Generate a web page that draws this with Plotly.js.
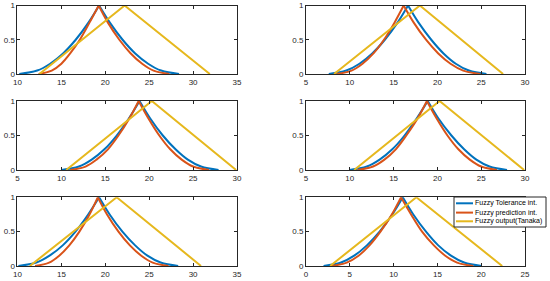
<!DOCTYPE html>
<html>
<head>
<meta charset="utf-8">
<script src="https://cdn.plot.ly/plotly-3.0.1.min.js"></script>
<style>html,body{margin:0;padding:0;background:#fff;}#chart{width:550px;height:281px;}</style>
</head>
<body>
<div id="chart"></div>
<script>
// membership (alpha) levels at which the interval bounds were read
const alpha = [0, 0.05, 0.15, 0.3, 0.5, 0.75, 1];
const triMu = [0, 1, 0];
const seriesNames = ['Fuzzy Tolerance int.', 'Fuzzy prediction int.', 'Fuzzy output(Tanaka)'];
const xTickVals = [0, 5, 10, 15, 20, 25, 30, 35];
const yTickVals = [0, 0.5, 1];

// Panel 1 (top-left)
const tolL1 = [10.2, 12.24, 13.72, 15.19, 16.63, 18.08, 19.3];
const tolR1 = [28.4, 26.36, 24.88, 23.41, 21.97, 20.52, 19.3];
const preL1 = [12.4, 13.9, 15.0, 16.0, 17.1, 18.2, 19.25];
const preR1 = [27.3, 25.5, 24.2, 22.9, 21.6, 20.3, 19.25];
const tan1 = [12.5, 22.2, 31.9];
// Panel 2 (top-right)
const tolL2 = [7.6, 9.6, 11.1, 12.56, 14.0, 15.45, 16.65];
const tolR2 = [25.6, 23.6, 22.1, 20.7, 19.3, 17.85, 16.65];
const preL2 = [8.5, 10.2, 11.45, 12.7, 13.9, 15.1, 16.15];
const preR2 = [24.9, 22.95, 21.5, 20.1, 18.7, 17.3, 16.15];
const tan2 = [8.2, 18.0, 27.5];
// Panel 3 (middle-left)
const tolL3 = [10.0, 12.0, 13.45, 14.9, 16.3, 17.7, 18.9];
const tolR3 = [27.9, 25.9, 24.4, 23.0, 21.55, 20.1, 18.9];
const preL3 = [11.0, 12.75, 14.0, 15.3, 16.5, 17.75, 18.8];
const preR3 = [26.8, 25.0, 23.7, 22.4, 21.15, 19.9, 18.8];
const tan3 = [10.55, 20.3, 29.9];
// Panel 4 (middle-right)
const tolL4 = [9.95, 11.95, 13.4, 14.85, 16.25, 17.65, 18.9];
const tolR4 = [27.95, 25.95, 24.45, 23.05, 21.6, 20.1, 18.9];
const preL4 = [10.9, 12.65, 13.95, 15.25, 16.45, 17.75, 18.8];
const preR4 = [26.8, 25.0, 23.7, 22.4, 21.15, 19.9, 18.8];
const tan4 = [10.5, 20.25, 29.9];
// Panel 5 (bottom-left)
const tolL5 = [10.1, 12.15, 13.65, 15.15, 16.6, 18.05, 19.3];
const tolR5 = [28.3, 26.3, 24.8, 23.4, 21.95, 20.5, 19.3];
const preL5 = [12.0, 13.6, 14.75, 15.9, 17.05, 18.2, 19.15];
const preR5 = [27.2, 25.4, 24.1, 22.8, 21.5, 20.2, 19.15];
const tan5 = [11.4, 21.3, 30.9];
// Panel 6 (bottom-right)
const tolL6 = [2.0, 4.0, 5.5, 6.95, 8.4, 9.85, 11.05];
const tolR6 = [20.05, 18.05, 16.55, 15.1, 13.7, 12.25, 11.05];
const preL6 = [2.9, 4.65, 6.0, 7.25, 8.5, 9.8, 10.85];
const preR6 = [19.1, 17.25, 15.9, 14.6, 13.25, 12.0, 10.85];
const tan6 = [2.75, 12.6, 22.4];

const xRanges = [[10, 35], [5, 30], [5, 30], [5, 30], [10, 35], [0, 25]];

const panels = [
  [tolL1, tolR1, preL1, preR1, tan1],
  [tolL2, tolR2, preL2, preR2, tan2],
  [tolL3, tolR3, preL3, preR3, tan3],
  [tolL4, tolR4, preL4, preR4, tan4],
  [tolL5, tolR5, preL5, preR5, tan5],
  [tolL6, tolR6, preL6, preR6, tan6]
];

const colors = ['#0072BD', '#D95319', '#E6B81E'];
const traces = [];
panels.forEach((p, i) => {
  const xa = i === 0 ? 'x' : 'x' + (i + 1);
  const ya = i === 0 ? 'y' : 'y' + (i + 1);
  const curve = (xs, c, name) => ({
    x: xs, y: alpha, xaxis: xa, yaxis: ya, type: 'scatter', mode: 'lines',
    line: {color: colors[c], width: 2, shape: 'spline', smoothing: 1},
    name: name, showlegend: false, hoverinfo: 'skip'
  });
  traces.push(curve(p[0], 0, seriesNames[0]));
  traces.push(curve(p[1], 0, seriesNames[0]));
  traces.push(curve(p[2], 1, seriesNames[1]));
  traces.push(curve(p[3], 1, seriesNames[1]));
  traces.push({
    x: p[4], y: triMu, xaxis: xa, yaxis: ya, type: 'scatter', mode: 'lines',
    line: {color: colors[2], width: 2}, name: seriesNames[2], showlegend: false, hoverinfo: 'skip'
  });
});

const xDom = [[0.0318, 0.4309], [0.5564, 0.9545]];
const yDom = [[0.7367, 0.9804], [0.3950, 0.6406], [0.0534, 0.2979]];
const font = {family: 'Liberation Sans, Arial, sans-serif', size: 8, color: '#262626'};
const axBase = {
  showline: true, linecolor: '#262626', linewidth: 1, mirror: 'allticks',
  ticks: 'inside', ticklen: 3, tickwidth: 1, tickcolor: '#262626',
  showgrid: false, zeroline: false, tickfont: font, fixedrange: true
};

const layout = {
  width: 550, height: 281, autosize: false,
  margin: {l: 0, r: 0, t: 0, b: 0},
  paper_bgcolor: '#fff', plot_bgcolor: '#fff',
  showlegend: false, font: font,
  shapes: [], annotations: []
};
for (let i = 0; i < 6; i++) {
  const k = i === 0 ? '' : String(i + 1);
  const col = i % 2, row = Math.floor(i / 2);
  layout['xaxis' + k] = Object.assign({}, axBase, {
    domain: xDom[col], range: xRanges[i], tickvals: xTickVals, anchor: 'y' + k
  });
  layout['yaxis' + k] = Object.assign({}, axBase, {
    domain: yDom[row], range: [0, 1], tickvals: yTickVals, anchor: 'x' + k
  });
}

// legend box drawn inside the bottom-right panel
const W = 550, H = 281;
const px = v => v / W, py = v => 1 - v / H;
layout.shapes.push({type: 'rect', xref: 'paper', yref: 'paper', layer: 'above',
  x0: px(454), x1: px(546), y0: py(227), y1: py(197),
  line: {color: '#262626', width: 1}, fillcolor: '#fff'});
const rowsY = [203.3, 212.6, 221.3];
seriesNames.forEach((nm, j) => {
  layout.shapes.push({type: 'line', xref: 'paper', yref: 'paper', layer: 'above',
    x0: px(456), x1: px(473), y0: py(rowsY[j]), y1: py(rowsY[j]),
    line: {color: colors[j], width: 2}});
  layout.annotations.push({xref: 'paper', yref: 'paper', x: px(473.5), y: py(rowsY[j]),
    xanchor: 'left', yanchor: 'middle', text: nm, showarrow: false,
    font: {family: 'Liberation Sans, Arial, sans-serif', size: 7, color: '#000'}, borderpad: 0});
});

Plotly.newPlot('chart', traces, layout, {staticPlot: true, displayModeBar: false});
</script>
</body>
</html>
